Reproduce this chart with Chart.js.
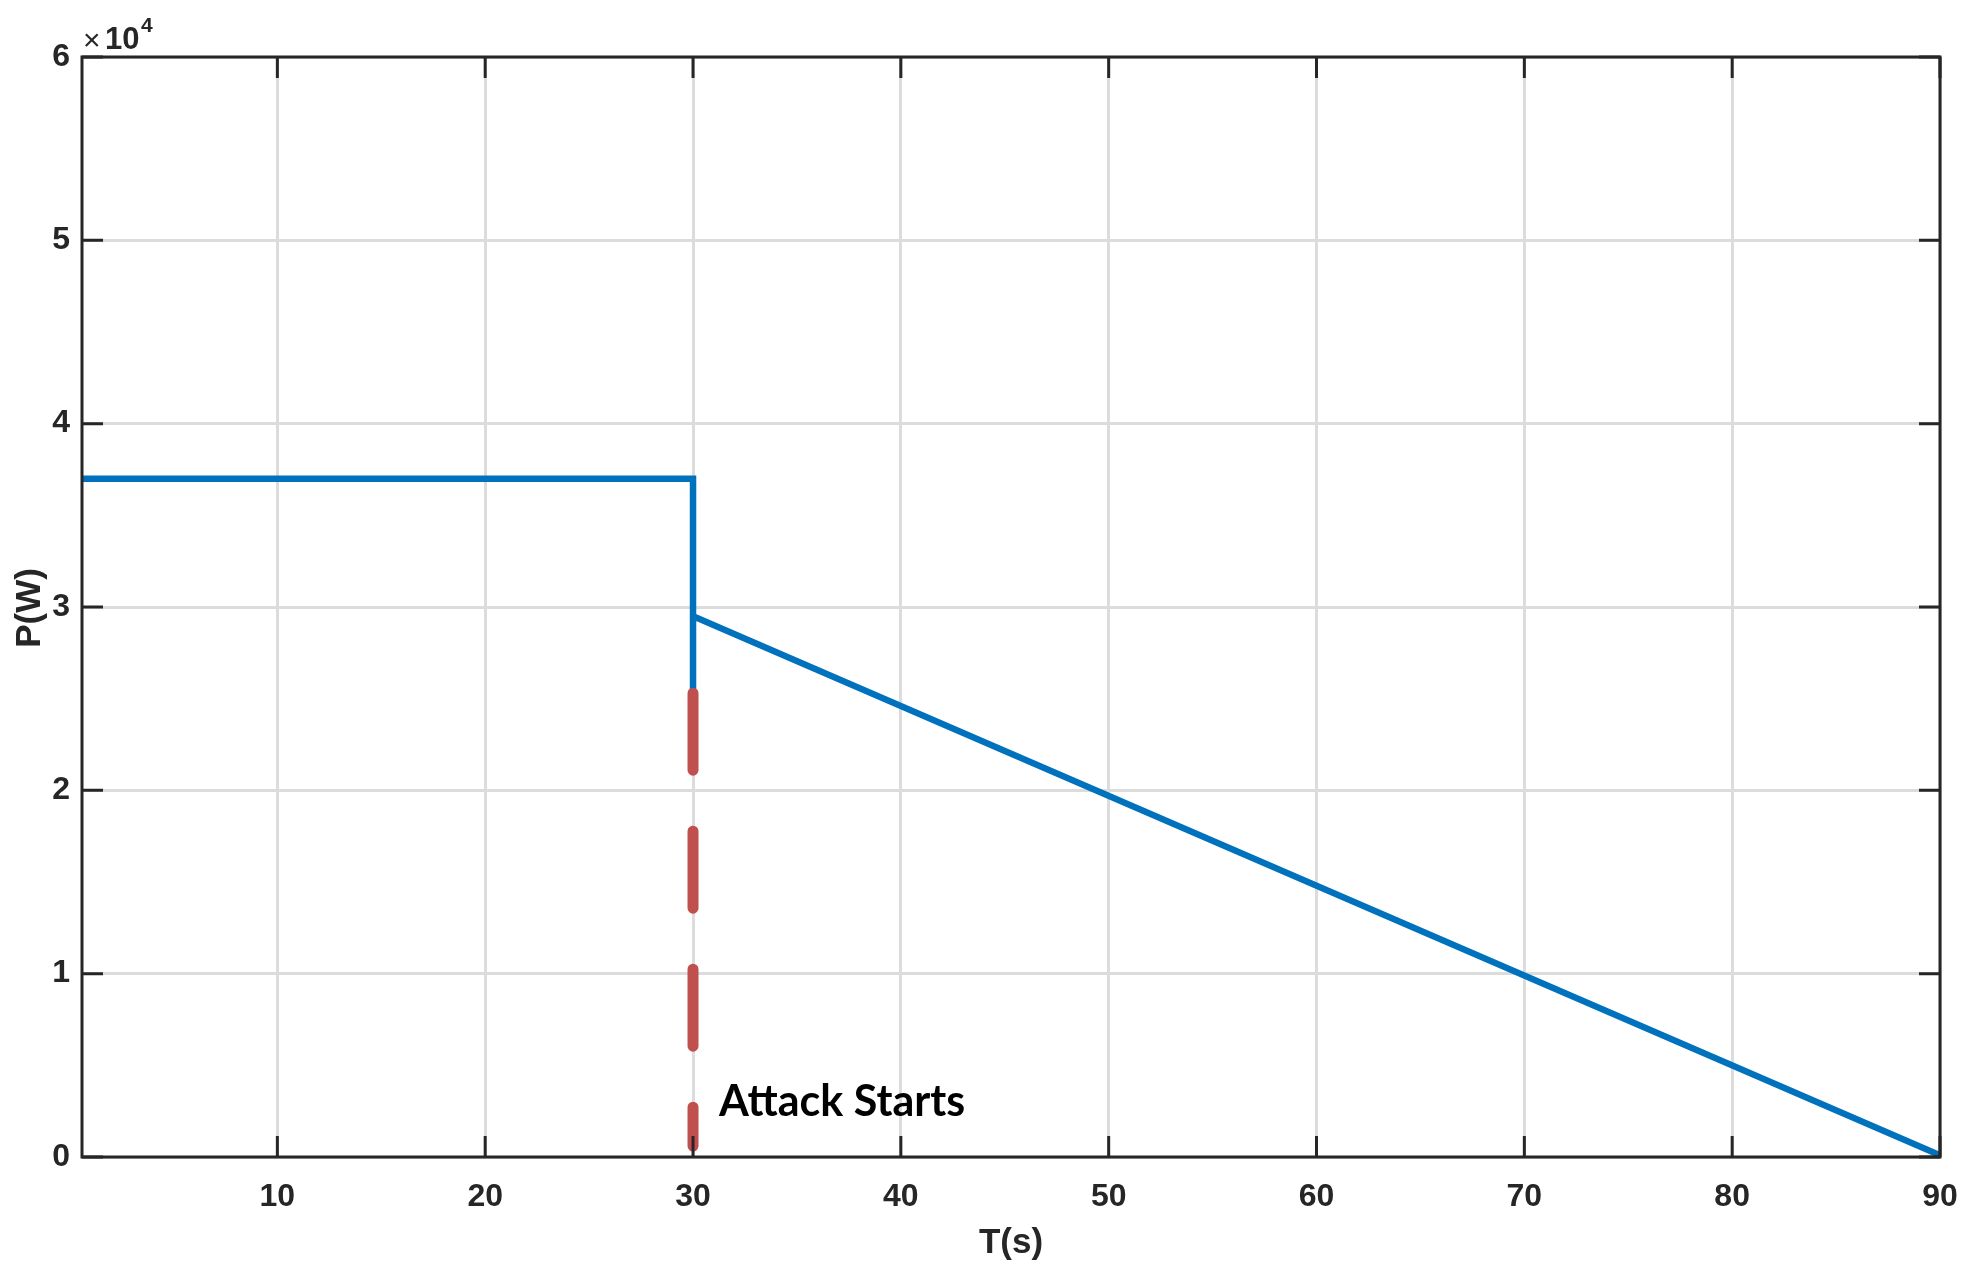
<!DOCTYPE html>
<html>
<head>
<meta charset="utf-8">
<script src="https://cdn.jsdelivr.net/npm/chart.js@4.4.0/dist/chart.umd.min.js"></script>
<style>
    html, body { margin: 0; padding: 0; background: #fff; }
    #wrap { width: 1969px; height: 1284px; }
</style>
</head>
<body>
<div id="wrap"><canvas id="c" width="1969" height="1284"></canvas></div>
<script>
    'use strict';

    // data (time in s, power in W)
    var powerT = [0.6, 30, 30, 30, 90];
    var powerW = [37000, 37000, 25300, 29500, 100];
    var attackT = [30, 30];
    var attackW = [25300, 600];
    var xTicks = [10, 20, 30, 40, 50, 60, 70, 80, 90];
    var yTicks = [0, 10000, 20000, 30000, 40000, 50000, 60000];

    function toPoints(xs, ys) {
        return xs.map(function (x, i) { return { x: x, y: ys[i] }; });
    }

    var axisColor = '#262626';
    var tickFont = { family: 'Liberation Sans, Arial, sans-serif', size: 32, weight: 'bold' };

    // box, inward ticks, titles, exponent and annotation
    var decor = {
        id: 'decor',
        afterDraw: function (chart) {
            var ctx = chart.ctx;
            var a = chart.chartArea;
            var xs = chart.scales.x, ys = chart.scales.y;
            ctx.save();
            ctx.strokeStyle = axisColor;
            ctx.lineWidth = 3;
            ctx.strokeRect(a.left, a.top, a.right - a.left, a.bottom - a.top);

            var len = 21;
            ctx.beginPath();
            xTicks.forEach(function (v) {
                var px = xs.getPixelForValue(v);
                ctx.moveTo(px, a.bottom); ctx.lineTo(px, a.bottom - len);
                ctx.moveTo(px, a.top); ctx.lineTo(px, a.top + len);
            });
            yTicks.forEach(function (v) {
                var py = ys.getPixelForValue(v);
                ctx.moveTo(a.left, py); ctx.lineTo(a.left + len, py);
                ctx.moveTo(a.right, py); ctx.lineTo(a.right - len, py);
            });
            ctx.stroke();

            ctx.fillStyle = axisColor;
            ctx.font = 'bold 35px Liberation Sans, Arial, sans-serif';
            ctx.textAlign = 'center';
            ctx.textBaseline = 'middle';
            ctx.fillText('T(s)', (a.left + a.right) / 2, 1243);

            ctx.save();
            ctx.translate(30, 608);
            ctx.rotate(-Math.PI / 2);
            ctx.fillText('P(W)', 0, 0);
            ctx.restore();

            // exponent
            ctx.textAlign = 'left';
            ctx.textBaseline = 'alphabetic';
            ctx.font = '30px Liberation Sans, Arial, sans-serif';
            ctx.fillText('\u00d7', 83, 50);
            ctx.font = 'bold 31px Liberation Sans, Arial, sans-serif';
            ctx.fillText('10', 105, 49);
            ctx.font = 'bold 21px Liberation Sans, Arial, sans-serif';
            ctx.fillText('4', 141, 32);

            // annotation
            ctx.fillStyle = '#000';
            ctx.font = 'bold 43px Lato, sans-serif';
            ctx.textBaseline = 'middle';
            ctx.fillText('Attack Starts', xs.getPixelForValue(31.25), ys.getPixelForValue(3000));
            ctx.restore();
        }
    };

    var ctx = document.getElementById('c').getContext('2d');
    new Chart(ctx, {
        type: 'scatter',
        data: {
            datasets: [{
                label: 'Attack',
                data: toPoints(attackT, attackW),
                showLine: true,
                borderColor: '#c0504d',
                borderWidth: 11,
                borderDash: [77, 61],
                borderCapStyle: 'round',
                pointRadius: 0,
                order: 0
            }, {
                label: 'P',
                data: toPoints(powerT, powerW),
                showLine: true,
                borderColor: '#0072bd',
                borderWidth: 6.5,
                pointRadius: 0,
                tension: 0,
                order: 1
            }]
        },
        options: {
            responsive: false,
            animation: false,
            devicePixelRatio: 1,
            layout: { padding: { top: 57, right: 29, left: 0, bottom: 0 } },
            plugins: { legend: { display: false }, tooltip: { enabled: false } },
            scales: {
                x: {
                    type: 'linear',
                    min: 0.6,
                    max: 90,
                    afterBuildTicks: function (s) { s.ticks = xTicks.map(function (v) { return { value: v }; }); },
                    afterFit: function (s) { s.height = 127; s.paddingLeft = 0; s.paddingRight = 0; },
                    grid: { color: '#dcdcdc', lineWidth: 3, drawTicks: false },
                    border: { display: false },
                    ticks: { font: tickFont, color: axisColor, padding: 21, maxRotation: 0 }
                },
                y: {
                    type: 'linear',
                    min: 0,
                    max: 60000,
                    afterBuildTicks: function (s) { s.ticks = yTicks.map(function (v) { return { value: v }; }); },
                    afterFit: function (s) { s.width = 82; s.paddingTop = 0; s.paddingBottom = 0; },
                    grid: { color: '#dcdcdc', lineWidth: 3, drawTicks: false },
                    border: { display: false },
                    ticks: {
                        font: tickFont, color: axisColor, padding: 12,
                        callback: function (v) { return v / 10000; }
                    }
                }
            }
        },
        plugins: [decor]
    });
</script>
</body>
</html>
